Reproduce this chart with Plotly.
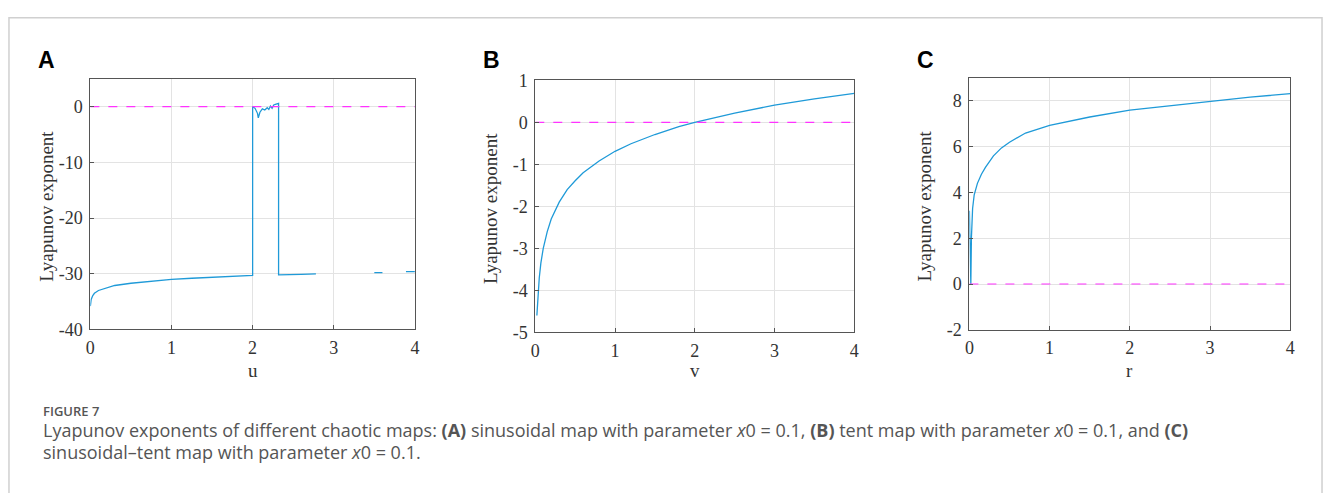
import plotly.graph_objects as go

# ---- Data ----
# Panel A: sinusoidal map (None = gap in curve)
u_vals = [0.0, 0.01, 0.03, 0.05, 0.1, 0.2, 0.3, 0.5, 0.75, 1.0, 1.25, 1.5, 1.75, 2.0,
          2.0, 2.03, 2.06, 2.07, 2.09, 2.12, 2.15, 2.18, 2.2, 2.22, 2.24, 2.26, 2.28, 2.31, 2.32,
          2.32, 2.4, 2.6, 2.78, 2.79,
          3.5, 3.6, 3.61,
          3.89, 4.0]
lam_a = [-35.8, -34.6, -33.9, -33.5, -33.0, -32.5, -32.1, -31.7, -31.3, -31.0, -30.8, -30.6, -30.4, -30.3,
         0.0, -0.3, -1.2, -2.0, -1.0, -0.4, -0.6, -0.2, -0.5, 0.1, -0.3, 0.3, 0.4, 0.6, 0.6,
         -30.2, -30.2, -30.1, -30.0, None,
         -29.8, -29.8, None,
         -29.6, -29.6]

# Panel B: tent map
v_vals = [0.02, 0.03, 0.05, 0.07, 0.1, 0.15, 0.2, 0.3, 0.4, 0.5, 0.6, 0.8, 1.0, 1.2, 1.5,
          1.8, 2.0, 2.5, 3.0, 3.5, 4.0]
lam_b = [-4.6, -4.2, -3.7, -3.35, -3.0, -2.6, -2.3, -1.9, -1.6, -1.39, -1.2, -0.92, -0.69,
         -0.51, -0.29, -0.1, 0.0, 0.22, 0.41, 0.56, 0.69]

# Panel C: sinusoidal-tent map
r_vals = [0.0, 0.005, 0.012, 0.018, 0.025, 0.04, 0.06, 0.1, 0.15, 0.2, 0.3, 0.4, 0.5, 0.7,
          1.0, 1.5, 2.0, 2.5, 3.0, 3.5, 4.0]
lam_c = [3.2, 2.0, 0.0, 0.0, 2.0, 3.3, 3.9, 4.4, 4.8, 5.1, 5.6, 5.95, 6.2, 6.6,
         6.93, 7.3, 7.6, 7.8, 8.0, 8.17, 8.32]

x_titles = ["u", "v", "r"]
panel_letters = ["A", "B", "C"]
y_ranges = [[-40, 5], [-5, 1], [-2, 9]]
y_ticks = [[-40, -30, -20, -10, 0], [-5, -4, -3, -2, -1, 0, 1], [-2, 0, 2, 4, 6, 8]]
x_ticks = [0, 1, 2, 3, 4]

# ---- Layout geometry (pixels) ----
W, H = 1330, 493
boxes = [(86, 413, 71.7, 333), (534.3, 855.7, 73.3, 336), (971.7, 1295, 71, 333.3)]

LINE = "#1f9ad8"
MAG = "#ff33ff"
SERIF = "Liberation Serif, Times New Roman, serif"

fig = go.Figure()
series = [(u_vals, lam_a), (v_vals, lam_b), (r_vals, lam_c)]
for i, (xs, ys) in enumerate(series):
    ax = "" if i == 0 else str(i + 1)
    fig.add_trace(go.Scatter(x=xs, y=ys, mode="lines", xaxis="x" + ax, yaxis="y" + ax,
                             line=dict(color=LINE, width=1.3), connectgaps=False,
                             showlegend=False, hoverinfo="skip"))
    fig.add_trace(go.Scatter(x=[0, 4], y=[0, 0], mode="lines", xaxis="x" + ax, yaxis="y" + ax,
                             line=dict(color=MAG, width=1.2, dash="dash"),
                             showlegend=False, hoverinfo="skip"))

layout = dict(width=W, height=H, margin=dict(l=0, r=0, t=0, b=0),
              paper_bgcolor="white", plot_bgcolor="white", showlegend=False)
annotations = []
for i, (x0, x1, yt, yb) in enumerate(boxes):
    ax = "" if i == 0 else str(i + 1)
    xd = [x0 / W, x1 / W]
    yd = [1 - yb / H, 1 - yt / H]
    common = dict(showline=True, linecolor="#555555", linewidth=1, mirror=True,
                  showgrid=True, gridcolor="#e3e3e3", gridwidth=1, zeroline=False,
                  ticks="inside", ticklen=4, tickcolor="#555555",
                  tickfont=dict(family=SERIF, size=18, color="#333333"))
    layout["xaxis" + ax] = dict(domain=xd, range=[0, 4], tickvals=x_ticks,
                                ticktext=[str(t) for t in x_ticks], ticklabelstandoff=2,
                                anchor="y" + ax, **common)
    layout["yaxis" + ax] = dict(domain=yd, range=y_ranges[i], tickvals=y_ticks[i],
                                ticktext=[str(t) for t in y_ticks[i]], ticklabelstandoff=3,
                                anchor="x" + ax, **common)
    # x title
    annotations.append(dict(text=x_titles[i], x=(x0 + x1) / 2 / W, y=1 - 376 / H,
                            xref="paper", yref="paper", showarrow=False,
                            font=dict(family=SERIF, size=19, color="#333333"),
                            xanchor="center", yanchor="middle"))
    # y title
    annotations.append(dict(text="Lyapunov exponent", x=(x0 - 45) / W, y=1 - ((yt + yb) / 2 + 2) / H,
                            xref="paper", yref="paper", showarrow=False, textangle=-90,
                            font=dict(family=SERIF, size=19, color="#333333"),
                            xanchor="center", yanchor="middle"))
    # panel letter
    annotations.append(dict(text="<b>" + panel_letters[i] + "</b>", x=(x0 - 55) / W, y=1 - 52 / H,
                            xref="paper", yref="paper", showarrow=False,
                            font=dict(family="Liberation Sans, Arial, sans-serif", size=23, color="black"),
                            xanchor="left", yanchor="middle"))

CAP = "Open Sans, sans-serif"
annotations.append(dict(text="FIGURE 7", x=36 / W, y=1 - 418 / H, xref="paper", yref="paper",
                        showarrow=False, xanchor="left", yanchor="middle",
                        font=dict(family=CAP, size=13, color="#555555", weight=600)))
annotations.append(dict(text="Lyapunov exponents of different chaotic maps: <b>(A)</b> sinusoidal map with parameter <i>x</i>0 = 0.1, "
                             "<b>(B)</b> tent map with parameter <i>x</i>0 = 0.1, and <b>(C)</b>",
                        x=36 / W, y=1 - 438 / H, xref="paper", yref="paper",
                        showarrow=False, xanchor="left", yanchor="middle",
                        font=dict(family=CAP, size=18, color="#555555")))
annotations.append(dict(text="sinusoidal\u2013tent map with parameter <i>x</i>0 = 0.1.",
                        x=36 / W, y=1 - 461 / H, xref="paper", yref="paper",
                        showarrow=False, xanchor="left", yanchor="middle",
                        font=dict(family=CAP, size=18, color="#555555")))
layout["annotations"] = annotations
layout["shapes"] = [dict(type="rect", xref="paper", yref="paper", x0=4 / W, x1=1327 / W,
                         y0=-0.05, y1=1 - 8 / H, line=dict(color="#d0d0d0", width=1.5))]
fig.update_layout(**layout)
fig.write_html("out.html")
